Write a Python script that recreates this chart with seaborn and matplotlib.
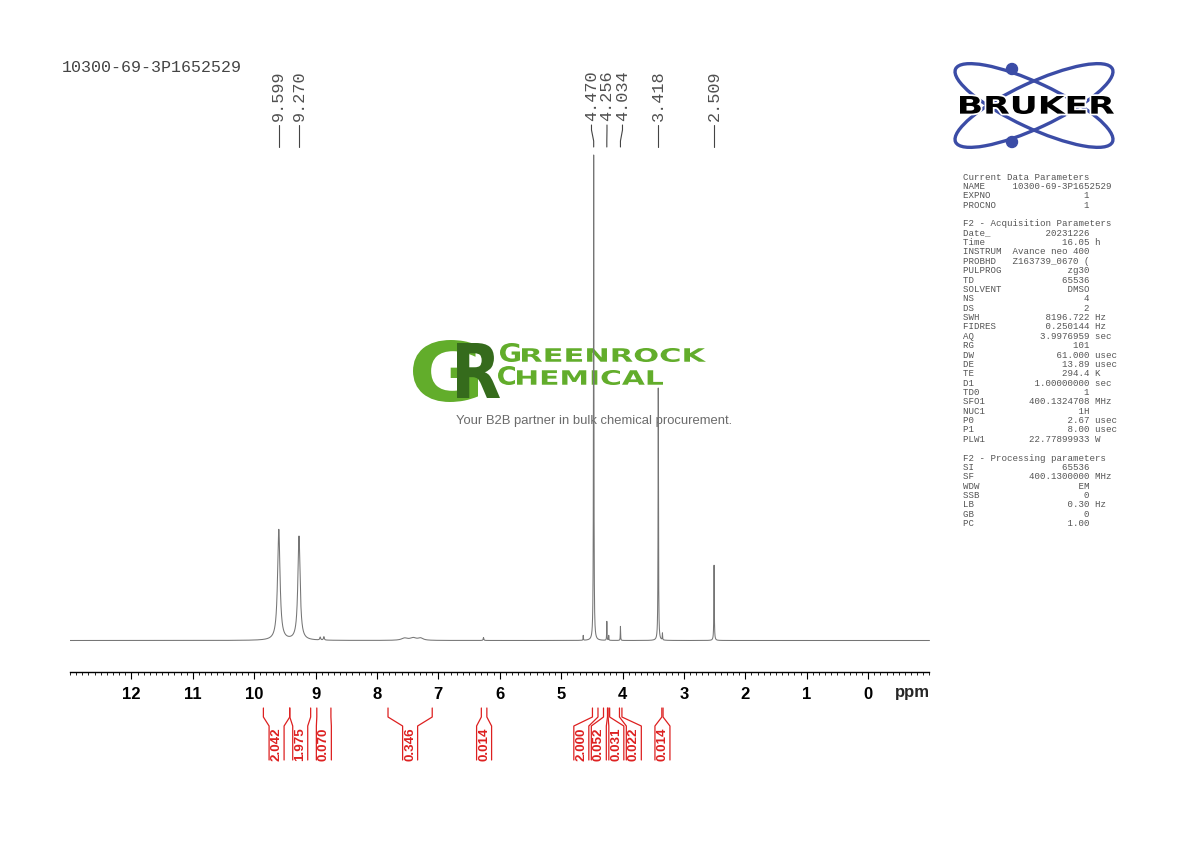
import numpy as np
import matplotlib
matplotlib.use('Agg')
import matplotlib.pyplot as plt
import seaborn as sns
from matplotlib.transforms import Affine2D, blended_transform_factory
from matplotlib.textpath import TextPath
from matplotlib.font_manager import FontProperties
from matplotlib.patches import PathPatch, Ellipse, Circle
from matplotlib.ticker import MultipleLocator

sns.set_theme(style='white')
plt.rcParams['font.family'] = ['Liberation Sans', 'DejaVu Sans']

sample_name = '10300-69-3P1652529'

# peak list: position (ppm), height (4.470 peak = 100), half width (ppm)
peak_ppm = [9.599, 9.270, 8.925, 8.865, 7.55, 7.41, 7.29, 6.265, 4.640, 4.470,
            4.256, 4.225, 4.034, 3.418, 3.350, 2.509]
peak_height = [22.8, 21.4, 0.6, 0.7, 0.45, 0.5, 0.45, 0.6, 1.0, 100.0,
               3.9, 1.0, 2.9, 52.0, 1.4, 15.5]
peak_hwhm = [0.024, 0.022, 0.008, 0.008, 0.06, 0.06, 0.05, 0.006, 0.003, 0.004,
             0.003, 0.003, 0.003, 0.004, 0.003, 0.004]

# labelled peaks
label_ppm = [9.599, 9.270, 4.470, 4.256, 4.034, 3.418, 2.509]

# integral regions
int_from = [9.85, 9.42, 8.98, 7.82, 6.30, 4.49, 4.31, 4.235, 4.05, 3.36]
int_to = [9.42, 9.08, 8.75, 7.10, 6.21, 4.40, 4.245, 4.21, 4.01, 3.34]
int_value = ['2.042', '1.975', '0.070', '0.346', '0.014', '2.000', '0.052', '0.031', '0.022', '0.014']

axis_ticks = list(range(12, -1, -1))

params = [
    ('Current Data Parameters', None, None),
    ('NAME', sample_name, None),
    ('EXPNO', '1', None),
    ('PROCNO', '1', None),
    ('', None, None),
    ('F2 - Acquisition Parameters', None, None),
    ('Date_', '20231226', None),
    ('Time', '16.05', 'h'),
    ('INSTRUM', 'Avance neo 400', None),
    ('PROBHD', 'Z163739_0670 (', None),
    ('PULPROG', 'zg30', None),
    ('TD', '65536', None),
    ('SOLVENT', 'DMSO', None),
    ('NS', '4', None),
    ('DS', '2', None),
    ('SWH', '8196.722', 'Hz'),
    ('FIDRES', '0.250144', 'Hz'),
    ('AQ', '3.9976959', 'sec'),
    ('RG', '101', None),
    ('DW', '61.000', 'usec'),
    ('DE', '13.89', 'usec'),
    ('TE', '294.4', 'K'),
    ('D1', '1.00000000', 'sec'),
    ('TD0', '1', None),
    ('SFO1', '400.1324708', 'MHz'),
    ('NUC1', '1H', None),
    ('P0', '2.67', 'usec'),
    ('P1', '8.00', 'usec'),
    ('PLW1', '22.77899933', 'W'),
    ('', None, None),
    ('F2 - Processing parameters', None, None),
    ('SI', '65536', None),
    ('SF', '400.1300000', 'MHz'),
    ('WDW', 'EM', None),
    ('SSB', '0', None),
    ('LB', '0.30', 'Hz'),
    ('GB', '0', None),
    ('PC', '1.00', None),
]

W, H = 1190, 842
fig = plt.figure(figsize=(W / 100, H / 100), dpi=100)
px = Affine2D().scale(1 / W, -1 / H).translate(0, 1) + fig.transFigure

# spectrum trace
ppm = np.linspace(13, -1, 14001)
intensity = np.zeros_like(ppm)
for p, h, g in zip(peak_ppm, peak_height, peak_hwhm):
    intensity += h * g ** 2 / ((ppm - p) ** 2 + g ** 2)

ax = fig.add_axes([70 / W, 1 - 672 / H, 859.5 / W, (672 - 150) / H])
ax.set_facecolor('none')
sns.lineplot(x=ppm, y=intensity, ax=ax, color='#757575', linewidth=0.75,
             estimator=None, sort=False)
ax.set_xlim(13, -1)
ax.set_ylim(-(672 - 640.5) / 4.855, 100 + 5 / 4.855)
for s in ['top', 'left', 'right']:
    ax.spines[s].set_visible(False)
ax.spines['bottom'].set_color('black')
ax.spines['bottom'].set_linewidth(1.0)
ax.set_yticks([])
ax.set_xlabel('')
ax.set_xticks(axis_ticks, labels=[str(t) for t in axis_ticks], fontweight='bold', fontsize=12)
ax.xaxis.set_minor_locator(MultipleLocator(0.1))
ax.tick_params(axis='x', which='major', direction='out', length=5, width=0.8,
               color='black', pad=5.5, labelcolor='black', bottom=True)
ax.tick_params(axis='x', which='minor', direction='out', length=2.5, width=0.6,
               color='black', bottom=True)
fig.text(930 / W, 1 - 693 / H, 'ppm', ha='right', va='center', fontsize=12, fontweight='bold')

blend = blended_transform_factory(ax.transData, px)


def spread(centers, gap):
    pos = np.array(centers, dtype=float)
    order = np.argsort(-pos)
    p = pos[order]
    for _ in range(500):
        moved = False
        for i in range(len(p) - 1):
            d = p[i] - p[i + 1]
            if d < gap - 1e-9:
                shift = (gap - d) / 2
                p[i] += shift
                p[i + 1] -= shift
                moved = True
        if not moved:
            break
    out = np.empty_like(p)
    out[order] = p
    return out


ppm_per_px = 14 / 859.5

# peak labels at top
lab_x = spread(label_ppm, 15.5 * ppm_per_px)
for p, lx in zip(label_ppm, lab_x):
    ax.text(lx, 121, f'{p:.3f}', transform=blend, rotation=90, ha='center', va='bottom',
            family=['Liberation Mono', 'DejaVu Sans Mono'], fontsize=12.2, color='#505050',
            clip_on=False)
    ax.plot([lx, lx, p, p], [125, 130, 141, 147], transform=blend, color='#444444',
            linewidth=0.8, clip_on=False)

# integrals
red = '#dd2020'
centers = [(a + b) / 2 for a, b in zip(int_from, int_to)]
box_x = spread(centers, 17.5 * ppm_per_px)
hw = 7.5 * ppm_per_px
for a, b, v, c in zip(int_from, int_to, int_value, box_x):
    ax.plot([a, a, c + hw, c + hw], [708, 717, 726, 760], transform=blend, color=red,
            linewidth=0.9, clip_on=False)
    ax.plot([b, b, c - hw, c - hw], [708, 717, 726, 760], transform=blend, color=red,
            linewidth=0.9, clip_on=False)
    ax.text(c, 744, v, transform=blend, rotation=90, ha='center', va='center',
            fontsize=9.6, fontweight='bold', color=red, clip_on=False)

# header and parameter block
fig.text(62 / W, 1 - 68 / H, sample_name, ha='left', va='center',
         family=['Liberation Mono', 'DejaVu Sans Mono'], fontsize=12, color='#444444')
for i, (name, val, unit) in enumerate(params):
    if val is None:
        line = name
    else:
        line = f'{name:<9}{val:>14}' + (f' {unit}' if unit else '')
    fig.text(963 / W, 1 - (177 + i * 9.37) / H, line, ha='left', va='center',
             family=['Liberation Mono', 'DejaVu Sans Mono'], fontsize=6.6, color='#555555')


def text_in_box(s, x0, y0, x1, y1, color, weight='bold', zorder=-1, edge='none', lw=0):
    tp = TextPath((0, 0), s, size=100, prop=FontProperties(family='DejaVu Sans', weight=weight))
    bb = tp.get_extents()
    tr = (Affine2D().translate(-bb.x0, -bb.y0)
          .scale((x1 - x0) / bb.width, -(y1 - y0) / bb.height).translate(x0, y1))
    patch = PathPatch(tr.transform_path(tp), facecolor=color, edgecolor=edge, linewidth=lw,
                      transform=px, zorder=zorder)
    fig.add_artist(patch)


# Bruker logo
blue = '#3b4ca6'
for ang in (25, -25):
    fig.add_artist(Ellipse((1034, 105.5), 173, 45, angle=ang, fill=False, edgecolor=blue,
                           linewidth=2.4, transform=px))
for cy in (69, 142):
    fig.add_artist(Circle((1012, cy), 5.5, color=blue, transform=px))
text_in_box('BRUKER', 960, 96, 1114, 114, 'white', weight='heavy', zorder=2, edge='white', lw=2.5)
text_in_box('BRUKER', 960, 96, 1114, 114, 'black', weight='heavy', zorder=3)

# Greenrock watermark
light_green = '#62ad2b'
dark_green = '#356b1c'
text_in_box('G', 413, 340, 478, 402, light_green)
text_in_box('R', 457, 343, 500, 398, dark_green)
text_in_box('G', 500, 343, 520, 362, light_green)
text_in_box('REENROCK', 522, 348, 706, 362, light_green)
text_in_box('C', 498, 366, 515, 385, light_green)
text_in_box('HEMICAL', 517, 370, 663, 385, light_green)
fig.text(594.5 / W, 1 - 421.5 / H, 'Your B2B partner in bulk chemical procurement.',
         ha='center', va='center', fontsize=9.4, color='#6b6b6b', zorder=-1)

fig.savefig('out.png', dpi=100)
